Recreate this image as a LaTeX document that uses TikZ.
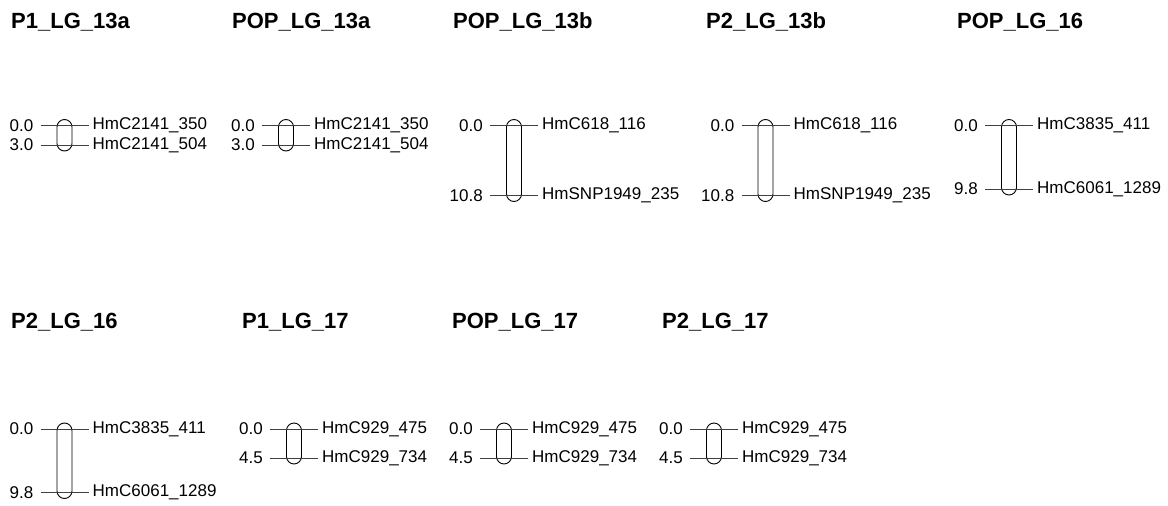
\documentclass[tikz,border=0pt]{standalone}
\usepackage{fontspec}
\setmainfont{Liberation Sans}
\tikzset{
  lgtitle/.style={anchor=base west,inner sep=0pt,font=\fontsize{22}{24}\selectfont\bfseries},
  poslabel/.style={anchor=east,inner sep=0pt,font=\fontsize{17}{20}\selectfont},
  marklabel/.style={anchor=west,inner sep=0pt,font=\fontsize{17}{20}\selectfont},
  tickline/.style={draw=black!75,line width=0.9pt},
  chrbox/.style={draw=black,line width=0.9pt,rounded corners=7.5pt}
}
% #1 name, #2 centre x, #3 top y, #4 bottom y, #5 pos1, #6 pos2, #7 marker1, #8 marker2
\newcommand{\lgmap}[8]{%
  \coordinate (#1l1) at (#2-24,#3);
  \coordinate (#1r1) at (#2+24,#3);
  \coordinate (#1l2) at (#2-24,#4);
  \coordinate (#1r2) at (#2+24,#4);
  \draw[chrbox] (#2-7.5,#3-6) rectangle (#2+7.5,#4+6);
  \draw[tickline] (#1l1) -- (#1r1);
  \draw[tickline] (#1l2) -- (#1r2);
  \node[poslabel] (#1p1) at ([xshift=-7pt]#1l1) {#5};
  \node[poslabel] (#1p2) at ([xshift=-7pt]#1l2) {#6};
  \node[marklabel] (#1m1) at ([xshift=4pt]#1r1) {#7};
  \node[marklabel] (#1m2) at ([xshift=4pt]#1r2) {#8};
}
\begin{document}
\begin{tikzpicture}[x=1pt,y=-1pt]
\useasboundingbox (0,0) rectangle (1168,506);
% row 1
\node[lgtitle] (tA) at (11,28) {P1\_LG\_13a};
\node[lgtitle] (tB) at (232,28) {POP\_LG\_13a};
\node[lgtitle] (tC) at (453,28) {POP\_LG\_13b};
\node[lgtitle] (tD) at (706,28) {P2\_LG\_13b};
\node[lgtitle] (tE) at (957,28) {POP\_LG\_16};
\lgmap{A}{64.5}{125.5}{145}{0.0}{3.0}{HmC2141\_350}{HmC2141\_504}
\lgmap{B}{286}{125.5}{145}{0.0}{3.0}{HmC2141\_350}{HmC2141\_504}
\lgmap{C}{514}{125.5}{195.5}{0.0}{10.8}{HmC618\_116}{HmSNP1949\_235}
\lgmap{D}{765.5}{125.5}{195.5}{0.0}{10.8}{HmC618\_116}{HmSNP1949\_235}
\lgmap{E}{1009}{125.5}{189}{0.0}{9.8}{HmC3835\_411}{HmC6061\_1289}
% row 2
\node[lgtitle] (tF) at (11,328) {P2\_LG\_16};
\node[lgtitle] (tG) at (242,328) {P1\_LG\_17};
\node[lgtitle] (tH) at (452,328) {POP\_LG\_17};
\node[lgtitle] (tI) at (662,328) {P2\_LG\_17};
\lgmap{F}{64.5}{429}{492.5}{0.0}{9.8}{HmC3835\_411}{HmC6061\_1289}
\lgmap{G}{294}{429}{458}{0.0}{4.5}{HmC929\_475}{HmC929\_734}
\lgmap{H}{504}{429}{458}{0.0}{4.5}{HmC929\_475}{HmC929\_734}
\lgmap{I}{714}{429}{458}{0.0}{4.5}{HmC929\_475}{HmC929\_734}
\end{tikzpicture}
\end{document}
